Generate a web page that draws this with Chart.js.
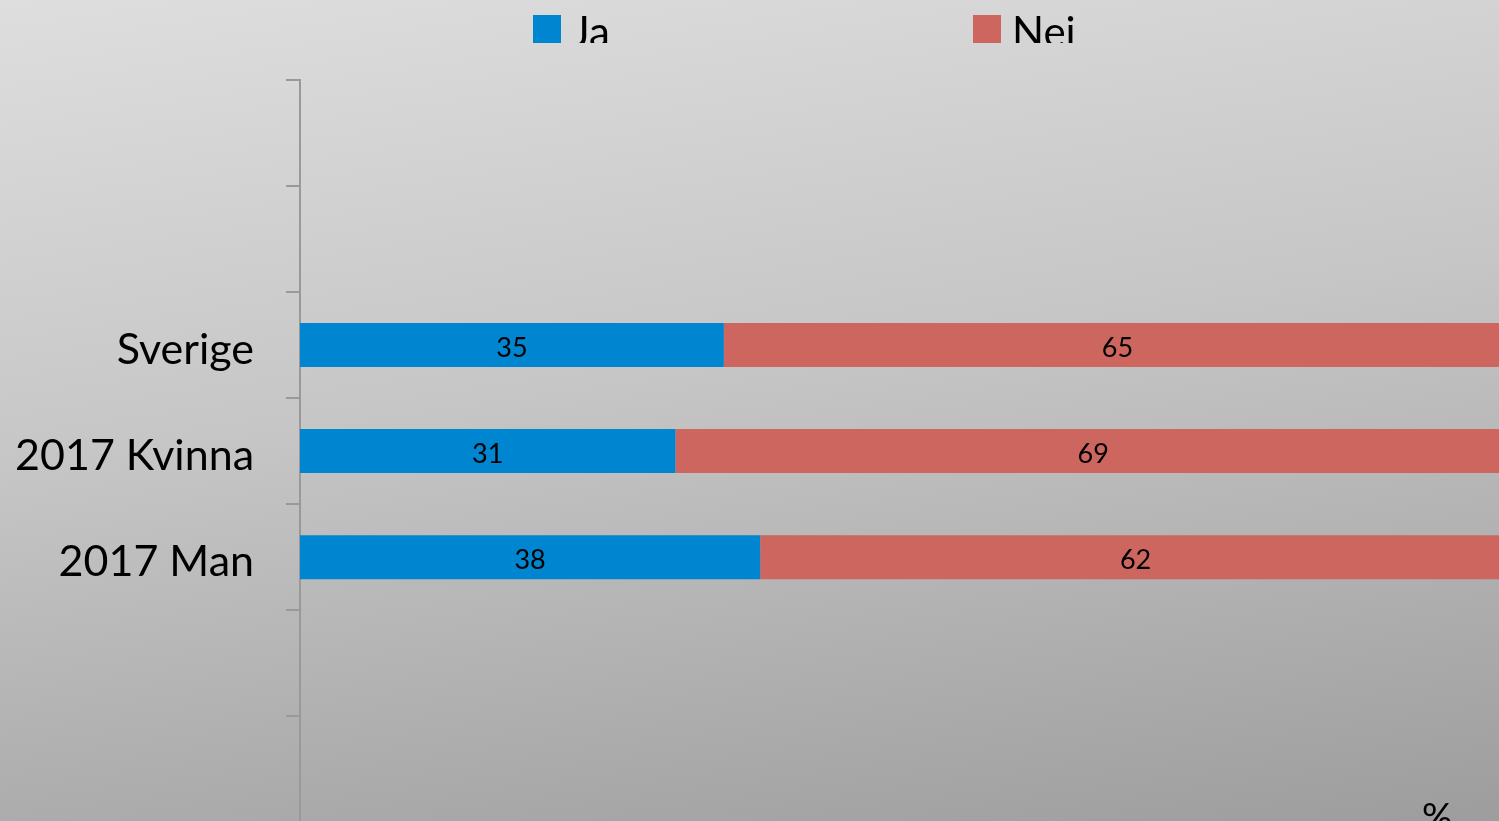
<!DOCTYPE html>
<html lang="sv">
<head>
<meta charset="utf-8">
<title>Ja / Nei</title>
<script src="https://cdn.jsdelivr.net/npm/chart.js@4/dist/chart.umd.min.js"></script>
<style>
    html, body {
        margin: 0;
        padding: 0;
        width: 1499px;
        height: 821px;
        overflow: hidden;
        background: linear-gradient(172deg, #dedede 0%, #c6c6c6 45%, #9d9d9d 100%);
    }
    #wrap {
        position: absolute;
        left: 0;
        top: 0;
        width: 1530px;
        height: 880px;
    }
</style>
</head>
<body>
<div id="wrap"><canvas id="ja-nei-chart" width="1530" height="880"></canvas></div>
<script>
// Seven category slots; only the middle three carry data.
const CATEGORIES = ["", "", "Sverige", "2017 Kvinna", "2017 Man", "", ""];
const JA_VALUES  = [null, null, 35, 31, 38, null, null];
const NEI_VALUES = [null, null, 65, 69, 62, null, null];
const SERIES_NAMES = ["Ja", "Nei"];
const AXIS_UNIT = "%";

const FONT = "Lato, 'Open Sans', 'DejaVu Sans', sans-serif";
const BLUE = "#0086d0";
const RED = "#cd665e";

// Value labels centred inside each stacked segment.
const segmentLabels = {
    id: "segmentLabels",
    afterDatasetsDraw(chart) {
        const ctx = chart.ctx;
        ctx.save();
        ctx.fillStyle = "#000";
        ctx.font = "27px " + FONT;
        ctx.textAlign = "center";
        ctx.textBaseline = "middle";
        chart.data.datasets.forEach((ds, di) => {
            chart.getDatasetMeta(di).data.forEach((bar, i) => {
                const v = ds.data[i];
                if (v == null) return;
                const c = bar.getCenterPoint();
                ctx.fillText(String(v), c.x, c.y + 3);
            });
        });
        ctx.restore();
    },
};

// Legend row along the top edge; the strip is clipped so the text runs
// off its lower edge.
const topLegend = {
    id: "topLegend",
    afterDraw(chart) {
        const ctx = chart.ctx;
        const area = chart.chartArea;
        ctx.save();
        ctx.beginPath();
        ctx.rect(0, 0, chart.width, 43);
        ctx.clip();
        ctx.font = "42px " + FONT;
        ctx.textBaseline = "alphabetic";
        ctx.textAlign = "left";
        chart.data.datasets.forEach((ds, i) => {
            const x = area.left + 233 + i * 440;
            ctx.fillStyle = ds.backgroundColor;
            ctx.fillRect(x, 15, 28, 40);
            ctx.fillStyle = "#000";
            ctx.fillText(ds.label, x + 39, 47);
        });
        ctx.restore();

        // unit marker in the lower right corner of the plot
        ctx.save();
        ctx.fillStyle = "#000";
        ctx.font = "38px " + FONT;
        ctx.textAlign = "left";
        ctx.textBaseline = "top";
        ctx.fillText(AXIS_UNIT, area.right - 89, area.bottom - 22);
        ctx.restore();
    },
};

const chart = new Chart(document.getElementById("ja-nei-chart"), {
    type: "bar",
    data: {
        labels: CATEGORIES,
        datasets: [
            {
                label: SERIES_NAMES[0],
                data: JA_VALUES,
                backgroundColor: BLUE,
                borderWidth: 0,
            },
            {
                label: SERIES_NAMES[1],
                data: NEI_VALUES,
                backgroundColor: RED,
                borderWidth: 0,
            },
        ],
    },
    options: {
        indexAxis: "y",
        responsive: false,
        animation: false,
        categoryPercentage: 1,
        barPercentage: 0.415,
        layout: { padding: { top: 80, right: 19, bottom: 0, left: 0 } },
        plugins: {
            legend: { display: false },
            tooltip: { enabled: false },
        },
        scales: {
            x: {
                display: false,
                stacked: true,
                min: 0,
                max: 100,
            },
            y: {
                stacked: true,
                afterFit(scale) { scale.width = 300; },
                border: { display: true, color: "#999", width: 2 },
                grid: {
                    offset: true,
                    drawOnChartArea: false,
                    drawTicks: true,
                    tickLength: 14,
                    color: "#999",
                    lineWidth: 2,
                },
                ticks: {
                    padding: 32,
                    labelOffset: 5,
                    color: "#000",
                    font: { family: FONT, size: 43 },
                },
            },
        },
    },
    plugins: [segmentLabels, topLegend],
});
</script>
</body>
</html>
